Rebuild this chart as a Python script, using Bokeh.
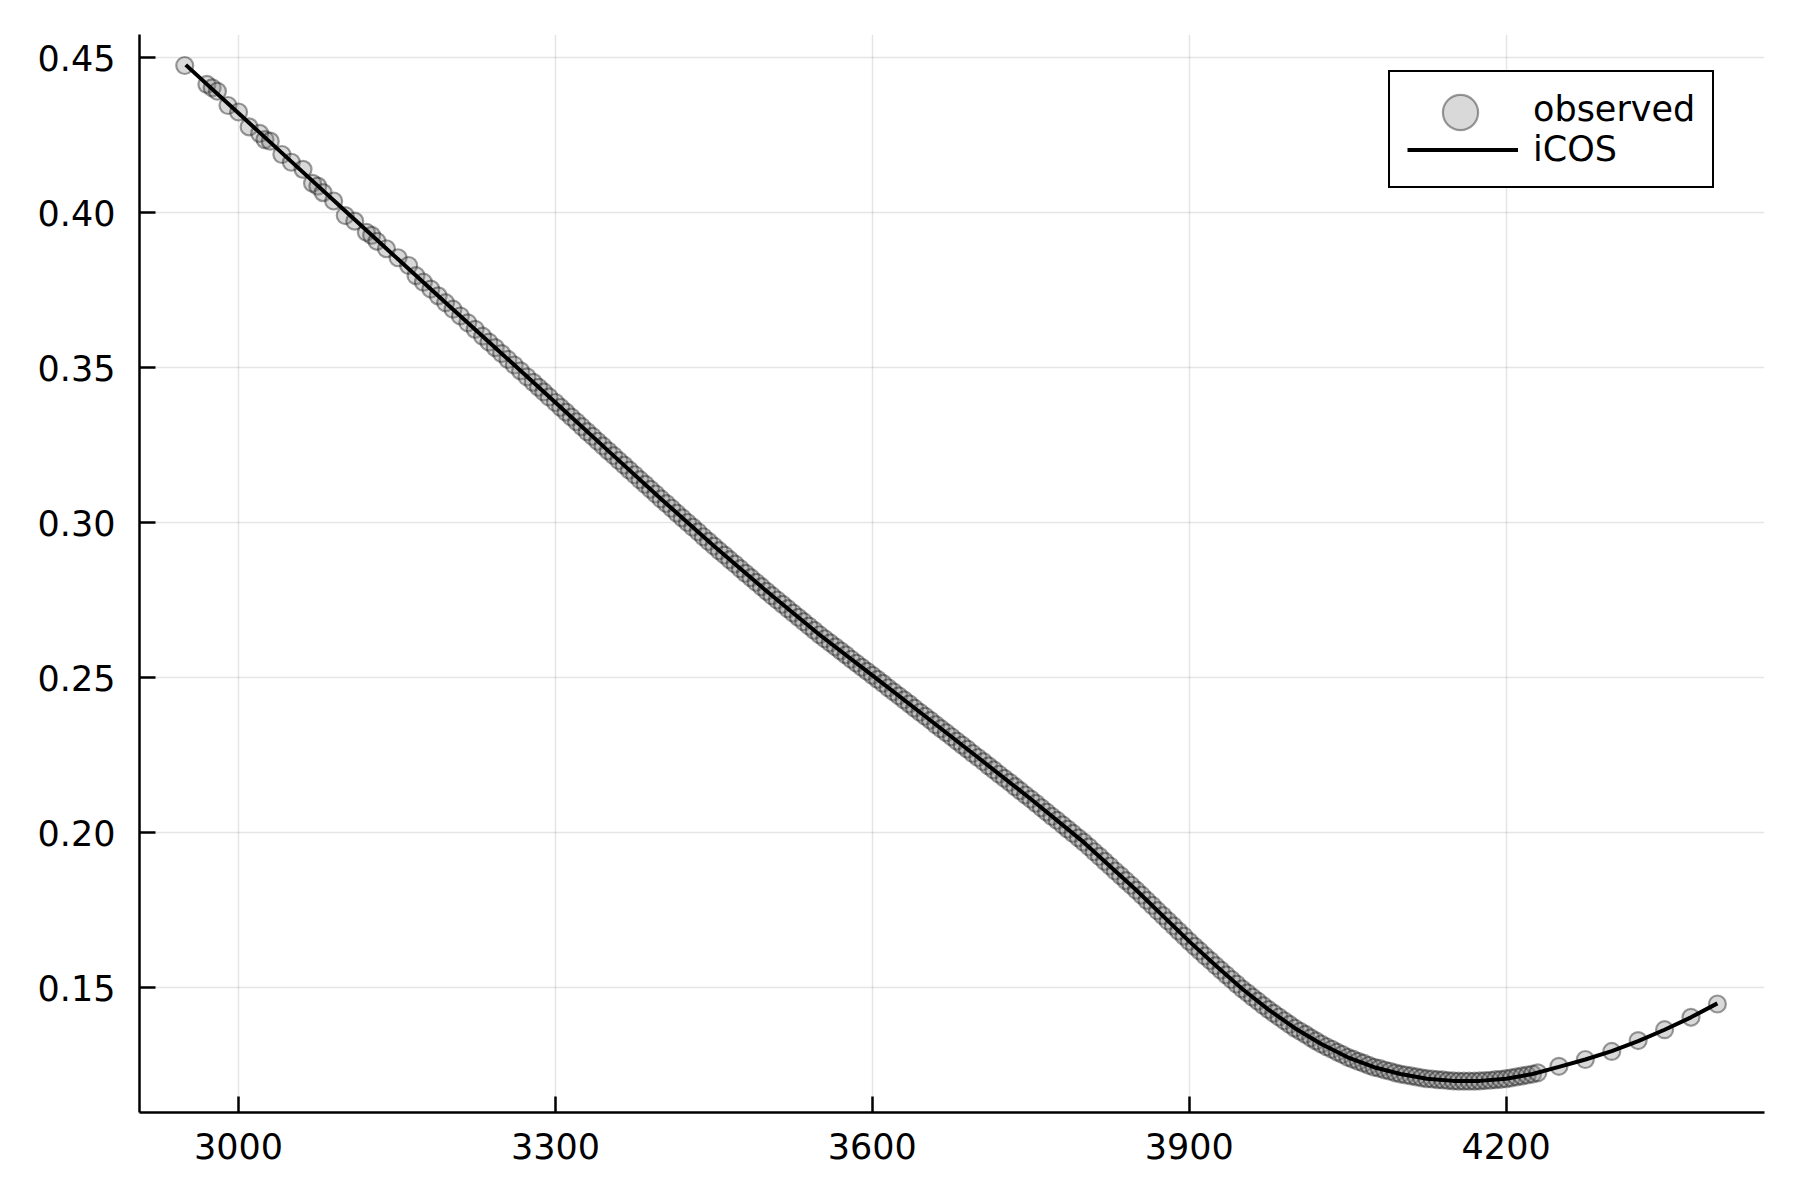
from bokeh.plotting import figure
from bokeh.models import Range1d, FixedTicker, Legend, LegendItem, NumeralTickFormatter
from bokeh.embed import file_html
from bokeh.resources import INLINE

# ---------------- data ----------------
obs_x_start = [2949, 2970, 2975, 2980, 2990, 3000, 3010, 3020, 3025, 3030,
               3041, 3050, 3061, 3070, 3075, 3080, 3090, 3101, 3110, 3121,
               3126, 3131, 3140, 3151, 3161,
               3168, 3175, 3182, 3189, 3196, 3203, 3210, 3217, 3224, 3231,
               3237, 3243, 3249, 3255, 3261, 3267, 3273, 3279, 3284, 3289, 3294]
obs_y_start = [0.4475, 0.4414, 0.4403, 0.4392, 0.4346, 0.4325, 0.4277, 0.4256, 0.4236, 0.4231,
               0.4188, 0.4163, 0.4140, 0.4095, 0.4086, 0.4065, 0.4038, 0.3991, 0.3973, 0.3937,
               0.3927, 0.3908, 0.3884, 0.3855, 0.3830,
               0.3797, 0.3776, 0.3754, 0.3732, 0.3710, 0.3689, 0.3667, 0.3645, 0.3624, 0.3602,
               0.3583, 0.3565, 0.3546, 0.3527, 0.3509, 0.3490, 0.3471, 0.3453, 0.3437, 0.3422, 0.3406]

obs_x_dense = [3300, 3305, 3310, 3315, 3320, 3325, 3330, 3335, 3340, 3345,
               3350, 3355, 3360, 3365, 3370, 3375, 3380, 3385, 3390, 3395,
               3400, 3405, 3410, 3415, 3420, 3425, 3430, 3435, 3440, 3445,
               3450, 3455, 3460, 3465, 3470, 3475, 3480, 3485, 3490, 3495,
               3500, 3505, 3510, 3515, 3520, 3525, 3530, 3535, 3540, 3545,
               3550, 3555, 3560, 3565, 3570, 3575, 3580, 3585, 3590, 3595,
               3600, 3605, 3610, 3615, 3620, 3625, 3630, 3635, 3640, 3645,
               3650, 3655, 3660, 3665, 3670, 3675, 3680, 3685, 3690, 3695,
               3700, 3705, 3710, 3715, 3720, 3725, 3730, 3735, 3740, 3745,
               3750, 3755, 3760, 3765, 3770, 3775, 3780, 3785, 3790, 3795,
               3800, 3805, 3810, 3815, 3820, 3825, 3830, 3835, 3840, 3845,
               3850, 3855, 3860, 3865, 3870, 3875, 3880, 3885, 3890, 3895,
               3900, 3905, 3910, 3915, 3920, 3925, 3930, 3935, 3940, 3945,
               3950, 3955, 3960, 3965, 3970, 3975, 3980, 3985, 3990, 3995,
               4000, 4005, 4010, 4015, 4020, 4025, 4030, 4035, 4040, 4045,
               4050, 4055, 4060, 4065, 4070, 4075, 4080, 4085, 4090, 4095,
               4100, 4105, 4110, 4115, 4120, 4125, 4130, 4135, 4140, 4145,
               4150, 4155, 4160, 4165, 4170, 4175, 4180, 4185, 4190, 4195,
               4200, 4205, 4210, 4215, 4220, 4225, 4230]
obs_y_dense = [0.3388, 0.3372, 0.3357, 0.3341, 0.3326, 0.3310, 0.3294, 0.3279, 0.3263, 0.3248,
               0.3232, 0.3217, 0.3201, 0.3186, 0.3170, 0.3155, 0.3139, 0.3124, 0.3108, 0.3093,
               0.3077, 0.3062, 0.3047, 0.3031, 0.3016, 0.3001, 0.2986, 0.2971, 0.2955, 0.2940,
               0.2925, 0.2910, 0.2896, 0.2881, 0.2867, 0.2852, 0.2837, 0.2823, 0.2808, 0.2794,
               0.2779, 0.2765, 0.2751, 0.2737, 0.2723, 0.2709, 0.2695, 0.2681, 0.2667, 0.2653,
               0.2639, 0.2626, 0.2613, 0.2600, 0.2587, 0.2574, 0.2560, 0.2547, 0.2534, 0.2521,
               0.2508, 0.2495, 0.2482, 0.2468, 0.2455, 0.2442, 0.2429, 0.2416, 0.2402, 0.2389,
               0.2376, 0.2363, 0.2349, 0.2336, 0.2323, 0.2310, 0.2296, 0.2283, 0.2270, 0.2256,
               0.2243, 0.2230, 0.2216, 0.2203, 0.2189, 0.2176, 0.2163, 0.2149, 0.2136, 0.2122,
               0.2109, 0.2095, 0.2081, 0.2067, 0.2053, 0.2040, 0.2026, 0.2012, 0.1998, 0.1984,
               0.1970, 0.1955, 0.1939, 0.1924, 0.1908, 0.1893, 0.1877, 0.1862, 0.1846, 0.1831,
               0.1815, 0.1799, 0.1782, 0.1766, 0.1749, 0.1733, 0.1716, 0.1700, 0.1683, 0.1667,
               0.1650, 0.1634, 0.1619, 0.1603, 0.1588, 0.1572, 0.1557, 0.1542, 0.1527, 0.1512,
               0.1497, 0.1484, 0.1470, 0.1457, 0.1443, 0.1430, 0.1418, 0.1406, 0.1394, 0.1382,
               0.1370, 0.1360, 0.1350, 0.1339, 0.1329, 0.1319, 0.1310, 0.1302, 0.1293, 0.1285,
               0.1276, 0.1270, 0.1263, 0.1257, 0.1250, 0.1244, 0.1240, 0.1235, 0.1231, 0.1226,
               0.1222, 0.1219, 0.1216, 0.1213, 0.1210, 0.1207, 0.1206, 0.1204, 0.1203, 0.1201,
               0.1200, 0.1199, 0.1199, 0.1199, 0.1199, 0.1200, 0.1201, 0.1202, 0.1204, 0.1205,
               0.1207, 0.1210, 0.1213, 0.1216, 0.1219, 0.1222, 0.1226]

obs_x_tail = [4250, 4275, 4300, 4325, 4350, 4375, 4400]
obs_y_tail = [0.1247, 0.1269, 0.1295, 0.1330, 0.1365, 0.1405, 0.1448]

icos_x = [2950, 3000, 3050, 3100, 3150, 3200, 3250, 3300, 3350, 3400,
          3450, 3500, 3550, 3600, 3650, 3700, 3750, 3800, 3850, 3900,
          3925, 3950, 3975, 4000, 4025, 4050, 4075, 4100, 4125, 4150,
          4175, 4200, 4225, 4250, 4275, 4300, 4325, 4350, 4375, 4400]
icos_y = [0.4477, 0.4321, 0.4165, 0.4009, 0.3853, 0.3698, 0.3543, 0.3388, 0.3232, 0.3077,
          0.2925, 0.2779, 0.2639, 0.2508, 0.2376, 0.2243, 0.2109, 0.1970, 0.1815, 0.1650,
          0.1572, 0.1497, 0.1430, 0.1370, 0.1319, 0.1276, 0.1244, 0.1222, 0.1207, 0.1200,
          0.1200, 0.1207, 0.1222, 0.1245, 0.1269, 0.1296, 0.1328, 0.1365, 0.1405, 0.1450]

x_ticks = [3000, 3300, 3600, 3900, 4200]
x_tick_labels = ["3000", "3300", "3600", "3900", "4200"]
y_ticks = [0.15, 0.20, 0.25, 0.30, 0.35, 0.40, 0.45]
y_tick_labels = ["0.15", "0.20", "0.25", "0.30", "0.35", "0.40", "0.45"]

series_labels = ["observed", "iCOS"]

obs_x = obs_x_start + obs_x_dense + obs_x_tail
obs_y = obs_y_start + obs_y_dense + obs_y_tail
assert len(obs_x) == len(obs_y)
assert len(icos_x) == len(icos_y)

# ---------------- figure ----------------
FONT = "DejaVu Sans"
FS = "35px"

p = figure(width=1784, height=1180, output_backend="svg", toolbar_location=None,
           x_range=Range1d(2906.2, 4444.6), y_range=Range1d(0.1098, 0.4575),
           min_border_left=139, min_border_right=20, min_border_top=34,
           min_border_bottom=68)
p.outline_line_color = None
p.background_fill_color = "white"
p.border_fill_color = "white"

obs = p.scatter(obs_x, obs_y, marker="circle", size=17,
                fill_color="gray", fill_alpha=0.3,
                line_color="black", line_alpha=0.38, line_width=2.2)
fit = p.line(icos_x, icos_y, line_color="black", line_width=4)

# legend helper with no data: label-only entry
label_only = p.scatter([], [], marker="circle", fill_alpha=0, line_alpha=0)

# axes
for ax in (p.xaxis[0], p.yaxis[0]):
    ax.axis_line_color = "black"
    ax.axis_line_width = 2.5
    ax.major_tick_in = 16
    ax.major_tick_out = 0
    ax.major_tick_line_color = "black"
    ax.major_tick_line_width = 2.5
    ax.minor_tick_line_color = None
    ax.major_label_text_font = FONT
    ax.major_label_text_font_size = FS
    ax.major_label_text_color = "black"

p.xaxis.ticker = FixedTicker(ticks=x_ticks)
p.xaxis.major_label_overrides = dict(zip(x_ticks, x_tick_labels))
p.xaxis.major_label_standoff = 20
p.yaxis.ticker = FixedTicker(ticks=y_ticks)
p.yaxis.formatter = NumeralTickFormatter(format="0.00")
p.yaxis.major_label_overrides = dict(zip(y_ticks, y_tick_labels))
p.yaxis.major_label_standoff = 24

p.grid.grid_line_color = "black"
p.grid.grid_line_alpha = 0.1
p.grid.grid_line_width = 1.5

legA = Legend(items=[LegendItem(label=series_labels[0], renderers=[label_only]),
                     LegendItem(label=series_labels[1], renderers=[fit])],
              location=(1249, 924), orientation="vertical",
              padding=17, spacing=0, margin=0,
              glyph_width=111, glyph_height=39, label_height=39, label_standoff=15,
              label_text_font=FONT, label_text_font_size=FS, label_text_color="black",
              border_line_color="black", border_line_width=2, border_line_alpha=1,
              background_fill_color="white", background_fill_alpha=1)
p.add_layout(legA)

# large marker swatch for the "observed" entry, drawn over the legend box
legB = Legend(items=[LegendItem(label=" ", renderers=[obs])],
              location=(1277, 956), orientation="vertical",
              padding=0, spacing=0, margin=0,
              glyph_width=88, glyph_height=88, label_standoff=0,
              label_text_font=FONT, label_text_font_size=FS,
              border_line_color=None, background_fill_alpha=0)
p.add_layout(legB)

open("out.html", "w").write(file_html(p, INLINE))
